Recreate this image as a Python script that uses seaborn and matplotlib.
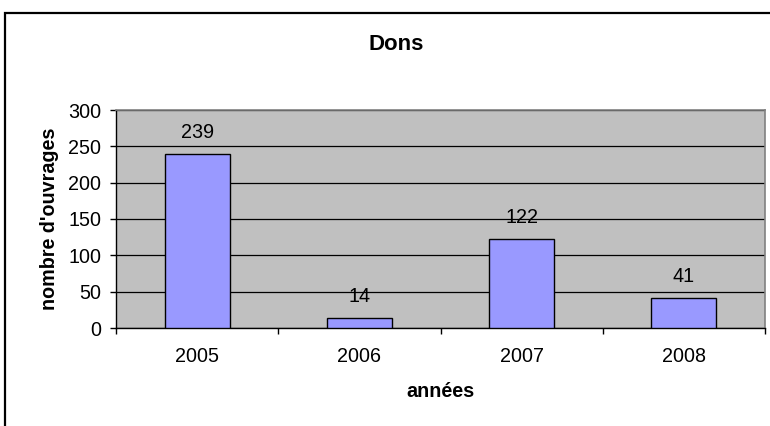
import matplotlib
matplotlib.use("Agg")
import matplotlib.pyplot as plt
import seaborn as sns
import pandas as pd
from matplotlib.patches import Rectangle
from matplotlib.ticker import FixedLocator

years = ["2005", "2006", "2007", "2008"]
values = [239, 14, 122, 41]
y_ticks = [0, 50, 100, 150, 200, 250, 300]

sns.set_style("white")
plt.rcParams['font.family'] = ['Liberation Sans', 'DejaVu Sans']
plt.rcParams['text.color'] = 'black'
plt.rcParams['axes.labelcolor'] = 'black'
plt.rcParams['xtick.color'] = 'black'
plt.rcParams['ytick.color'] = 'black'

df = pd.DataFrame({"année": years, "n": values})

fs = 14.2
fig = plt.figure(figsize=(7.7, 4.26), dpi=100)
ax = fig.add_axes([116/770, 1-328/426, (765-116)/770, (328-110)/426])
sns.barplot(data=df, x="année", y="n", ax=ax, color="#9999FF", saturation=1,
            edgecolor="black", linewidth=1, width=0.4, zorder=3)
ax.set_facecolor("#C0C0C0")
ax.set_ylim(0, 300)
ax.set_xlim(-0.5, 3.5)
ax.set_yticks(y_ticks)
ax.yaxis.grid(True, color="black", linewidth=0.9, zorder=1)
ax.set_axisbelow(True)
for s in ["top", "right"]:
    ax.spines[s].set_color("#808080")
    ax.spines[s].set_linewidth(1.2)
for s in ["left", "bottom"]:
    ax.spines[s].set_color("black")
    ax.spines[s].set_linewidth(1)
ax.tick_params(axis="y", length=4.5, width=1, color="black", labelsize=fs, pad=6, left=True)
ax.tick_params(axis="x", which="major", length=0, labelsize=fs, pad=14)
ax.xaxis.set_minor_locator(FixedLocator([-0.5, 0.5, 1.5, 2.5, 3.5]))
ax.tick_params(axis="x", which="minor", length=4.5, width=1, color="black", bottom=True)
ax.set_xlabel("années", fontsize=fs, fontweight="bold", labelpad=11)
ax.set_ylabel("nombre d'ouvrages", fontsize=fs, fontweight="bold", labelpad=7)

for i, v in enumerate(values):
    ax.annotate(str(v), (i, v), xytext=(0, 11.5), textcoords="offset points",
                ha="center", va="baseline", fontsize=fs)

fig.text(396/770, 1-45/426, "Dons", ha="center", va="center", fontsize=16, fontweight="bold")

fig.patches.append(Rectangle((5/770, -0.1), 1.1, 1.1 - 13/426, transform=fig.transFigure,
                             fill=False, edgecolor="black", linewidth=1.6))

fig.savefig("out.png", dpi=100)
